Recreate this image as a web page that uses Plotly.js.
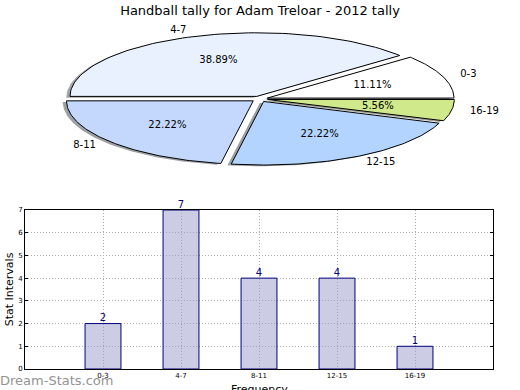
<!DOCTYPE html>
<html>
<head>
<meta charset="utf-8">
<script src="https://cdn.plot.ly/plotly-3.0.1.min.js"></script>
<style>html,body{margin:0;padding:0;background:#fff;}#chart{width:520px;height:390px;}</style>
</head>
<body>
<div id="chart"></div>
<script>
// ---- data ----
const categories = ['0-3', '4-7', '8-11', '12-15', '16-19'];
const counts = [2, 7, 4, 4, 1];
const pieColors = ['#ffffff', '#e9f1fe', '#c4d8fe', '#b3d4fe', '#cfe98b'];
const titleText = 'Handball tally for Adam Treloar - 2012 tally';
const xTitle = 'Frequency';
const yTitle = 'Stat Intervals';
const yTicks = [0, 1, 2, 3, 4, 5, 6, 7];

// ---- pie geometry (matplotlib-like, startangle 0, counter-clockwise) ----
const EXPLODE = 0.044;
const SHADOW = -0.02;
const N = 80;
const total = counts.reduce((a, b) => a + b, 0);
const fracs = counts.map(c => c / total);
const starts = [], ends = [];
let acc = 0;
fracs.forEach(f => { starts.push(acc * 2 * Math.PI); acc += f; ends.push(acc * 2 * Math.PI); });

function wedge(i, dx, dy) {
  const a0 = starts[i], a1 = ends[i], mid = (a0 + a1) / 2;
  const ox = EXPLODE * Math.cos(mid) + dx, oy = EXPLODE * Math.sin(mid) + dy;
  const xs = [ox], ys = [oy];
  for (let k = 0; k <= N; k++) {
    const a = a0 + (a1 - a0) * k / N;
    xs.push(ox + Math.cos(a)); ys.push(oy + Math.sin(a));
  }
  xs.push(ox); ys.push(oy);
  return {xs, ys};
}
function shade(hex) {
  const r = parseInt(hex.slice(1, 3), 16), g = parseInt(hex.slice(3, 5), 16), b = parseInt(hex.slice(5, 7), 16);
  return 'rgba(' + Math.round(r * 0.3) + ',' + Math.round(g * 0.3) + ',' + Math.round(b * 0.3) + ',0.5)';
}

const traces = [];
// shadows
categories.forEach((c, i) => {
  const w = wedge(i, SHADOW, SHADOW);
  traces.push({type: 'scatter', mode: 'lines', x: w.xs, y: w.ys, fill: 'toself',
    fillcolor: shade(pieColors[i]), line: {width: 0}, xaxis: 'x2', yaxis: 'y2', hoverinfo: 'skip'});
});
// wedges
categories.forEach((c, i) => {
  const w = wedge(i, 0, 0);
  traces.push({type: 'scatter', mode: 'lines', x: w.xs, y: w.ys, fill: 'toself',
    fillcolor: pieColors[i], line: {width: 1, color: '#000'}, xaxis: 'x2', yaxis: 'y2', hoverinfo: 'skip'});
});
// labels and percents
const lx = [], ly = [], lpos = [], px = [], py = [], ptxt = [];
categories.forEach((c, i) => {
  const mid = (starts[i] + ends[i]) / 2;
  const cx = Math.cos(mid), cy = Math.sin(mid);
  lx.push((1.1 + EXPLODE) * cx); ly.push((1.1 + EXPLODE) * cy);
  lpos.push(cx >= 0 ? 'middle right' : 'middle left');
  px.push((0.6 + EXPLODE) * cx); py.push((0.6 + EXPLODE) * cy);
  ptxt.push((fracs[i] * 100).toFixed(2) + '%');
});
traces.push({type: 'scatter', mode: 'text', x: lx, y: ly, text: categories, textposition: lpos,
  textfont: {family: 'DejaVu Sans', size: 10, color: '#000'}, xaxis: 'x2', yaxis: 'y2', cliponaxis: false, hoverinfo: 'skip'});
traces.push({type: 'scatter', mode: 'text', x: px, y: py, text: ptxt, textposition: 'middle center',
  textfont: {family: 'DejaVu Sans', size: 10, color: '#000'}, xaxis: 'x2', yaxis: 'y2', cliponaxis: false, hoverinfo: 'skip'});

// ---- bar chart ----
traces.push({type: 'bar', x: categories, y: counts, width: 0.46,
  marker: {color: 'rgba(153,153,204,0.5)', line: {color: '#000080', width: 1}},
  xaxis: 'x', yaxis: 'y', hoverinfo: 'skip'});
traces.push({type: 'scatter', mode: 'text', x: categories, y: counts, text: counts.map(String),
  textposition: 'top center', textfont: {family: 'DejaVu Sans', size: 10, color: '#000080'},
  cliponaxis: false, xaxis: 'x', yaxis: 'y', hoverinfo: 'skip'});

const layout = {
  width: 520, height: 390,
  margin: {l: 0, r: 0, t: 0, b: 0},
  paper_bgcolor: '#fff', plot_bgcolor: 'rgba(0,0,0,0)',
  showlegend: false,
  font: {family: 'DejaVu Sans', color: '#000'},
  title: {text: titleText, x: 0.5, xanchor: 'center', y: 0.974, yanchor: 'middle', yref: 'container',
    font: {family: 'DejaVu Sans', size: 13, color: '#000'}},
  xaxis2: {domain: [0, 1], range: [-1.390, 1.395], visible: false, fixedrange: true, anchor: 'y2'},
  yaxis2: {domain: [0.5, 1], range: [-1.509, 1.557], visible: false, fixedrange: true, anchor: 'x2'},
  xaxis: {domain: [25 / 520, 493 / 520], anchor: 'y', type: 'category', range: [-1, 5],
    showline: true, mirror: true, linecolor: '#000', linewidth: 1,
    showgrid: true, gridcolor: '#aaaaaa', griddash: '1px,2px', gridwidth: 1,
    ticks: '', tickfont: {family: 'DejaVu Sans', size: 7, color: '#000'},
    zeroline: false, fixedrange: true},
  yaxis: {domain: [21 / 390, 180 / 390], anchor: 'x', range: [0, 7], tickvals: yTicks,
    showline: true, mirror: 'ticks', linecolor: '#000', linewidth: 1,
    ticks: 'inside', ticklen: 3, tickcolor: '#000',
    showgrid: true, gridcolor: '#aaaaaa', griddash: '1px,2px', gridwidth: 1,
    tickfont: {family: 'DejaVu Sans', size: 7, color: '#000'},
    title: {text: yTitle, font: {family: 'DejaVu Sans', size: 11, color: '#000'}, standoff: 2},
    zeroline: false, fixedrange: true},
  annotations: [
    {text: 'Dream-Stats.com', xref: 'paper', yref: 'paper', x: -0.004, xanchor: 'left',
      y: 10 / 390, yanchor: 'middle', showarrow: false,
      font: {family: 'DejaVu Sans', size: 13, color: '#939393'}},
    {text: xTitle, xref: 'paper', yref: 'paper', x: 259 / 520, xanchor: 'center',
      y: 1 / 390, yanchor: 'middle', showarrow: false,
      font: {family: 'DejaVu Sans', size: 11, color: '#000'}}
  ]
};

Plotly.newPlot('chart', traces, layout, {staticPlot: true, displayModeBar: false});
</script>
</body>
</html>
